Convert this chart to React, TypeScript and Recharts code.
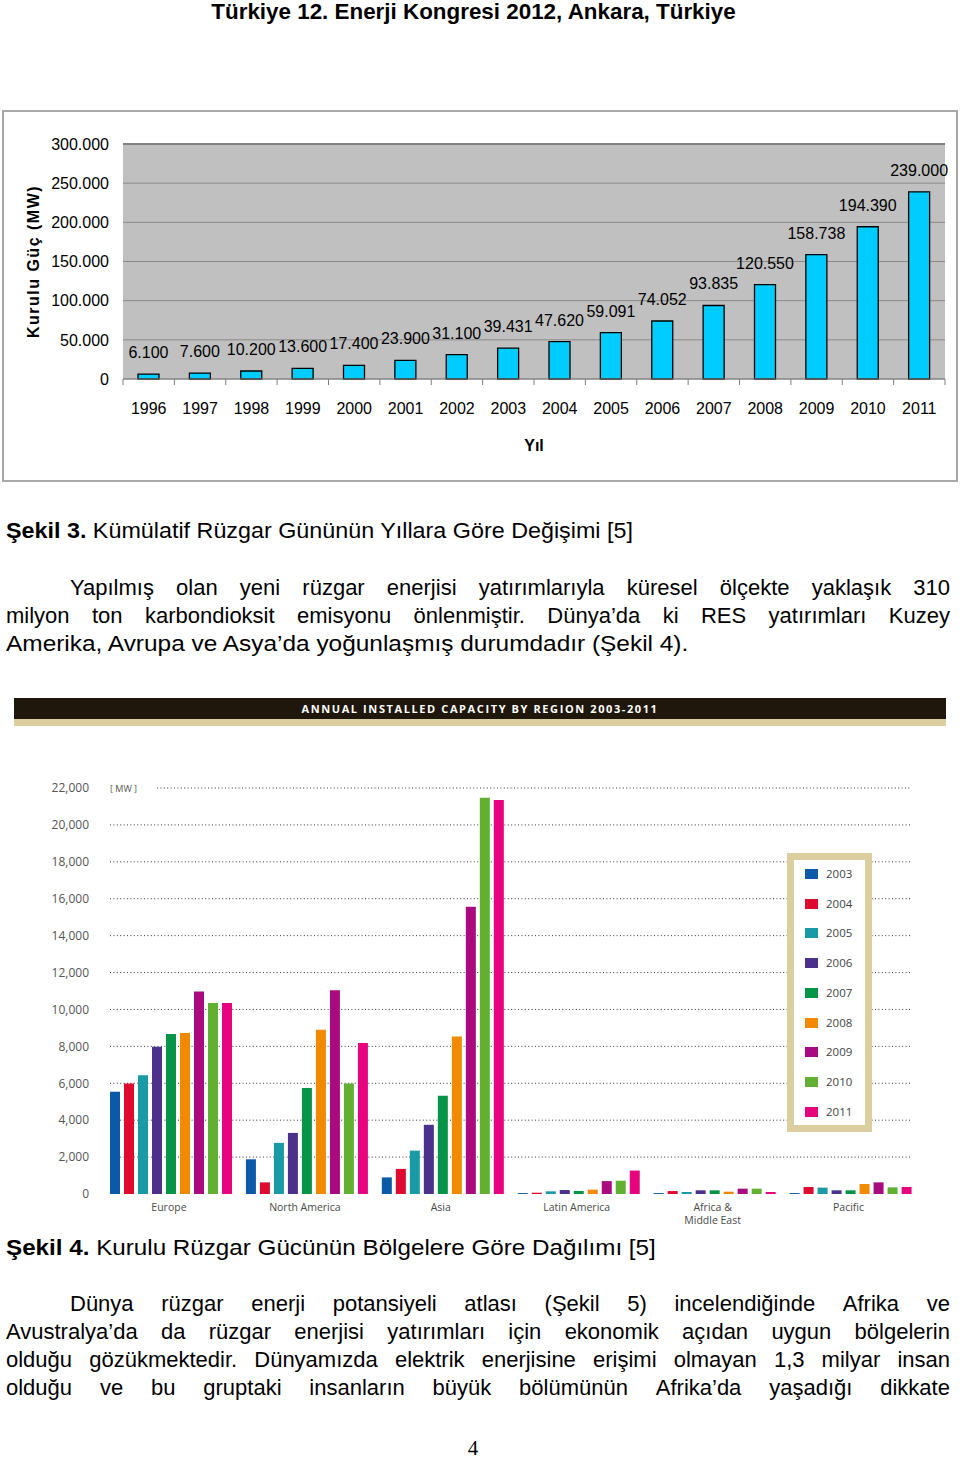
import React from 'react';
import { BarChart, Bar, XAxis, YAxis, CartesianGrid, LabelList, Legend, Label, ReferenceLine } from 'recharts';

// ---------- Şekil 3 data ----------
const years = ['1996', '1997', '1998', '1999', '2000', '2001', '2002', '2003', '2004', '2005', '2006', '2007', '2008', '2009', '2010', '2011'];
const installedMW = [6100, 7600, 10200, 13600, 17400, 23900, 31100, 39431, 47620, 59091, 74052, 93835, 120550, 158738, 194390, 239000];
const cumulativeTicks = [0, 50000, 100000, 150000, 200000, 250000, 300000];

// ---------- Şekil 4 data ----------
const regions = ['Europe', 'North America', 'Asia', 'Latin America', 'Africa &\nMiddle East', 'Pacific'];
const cap2003 = [5540, 1880, 900, 50, 50, 50];
const cap2004 = [5990, 630, 1360, 70, 160, 380];
const cap2005 = [6430, 2770, 2350, 145, 110, 345];
const cap2006 = [7980, 3310, 3750, 215, 200, 200];
const cap2007 = [8670, 5740, 5320, 165, 200, 200];
const cap2008 = [8720, 8900, 8540, 235, 125, 540];
const cap2009 = [10970, 11040, 15570, 700, 290, 630];
const cap2010 = [10350, 5990, 21470, 720, 290, 360];
const cap2011 = [10350, 8180, 21350, 1270, 110, 380];
const seriesYears = ['2003', '2004', '2005', '2006', '2007', '2008', '2009', '2010', '2011'];
const seriesValues = [cap2003, cap2004, cap2005, cap2006, cap2007, cap2008, cap2009, cap2010, cap2011];
const seriesColors = ['#0a5aa8', '#de0a30', '#1a9aa6', '#4b318c', '#069548', '#f08a00', '#aa0a80', '#62b032', '#e6057f'];
const regionTicks = [0, 2000, 4000, 6000, 8000, 10000, 12000, 14000, 16000, 18000, 20000, 22000];

const cumulativeData = years.map((y, i) => ({ year: y, mw: installedMW[i] }));
const regionData = regions.map((r, ri) => {
  const row: any = { region: r };
  seriesYears.forEach((y, si) => { row[y] = seriesValues[si][ri]; });
  return row;
});

const groupThousands = (v: number, sep: string) => String(v).replace(/\B(?=(\d{3})+(?!\d))/g, sep);
const fmtTR = (v: any) => groupThousands(Number(v), '.');
const fmtEN = (v: any) => groupThousands(Number(v), ',');

const SANS = '"Liberation Sans", Arial, Helvetica, sans-serif';
const OPEN = '"Open Sans", "Noto Sans", sans-serif';

const YearTick = (p: any) => {
  const band = p.width && p.visibleTicksCount ? p.width / p.visibleTicksCount : 0;
  return (
    <g>
      {band > 0 && <line x1={p.x - band / 2} x2={p.x - band / 2} y1={p.y} y2={p.y + 6} stroke="#808080" />}
      {band > 0 && p.index === p.visibleTicksCount - 1 && (
        <line x1={p.x + band / 2} x2={p.x + band / 2} y1={p.y} y2={p.y + 6} stroke="#808080" />
      )}
      <text x={p.x} y={p.y + 29} textAnchor="middle" dominantBaseline="central" fontSize={16} fontFamily={SANS} fill="#000">
        {p.payload.value}
      </text>
    </g>
  );
};

const RegionTick = (p: any) => {
  const lines = String(p.payload.value).split('\n');
  return (
    <g>
      {lines.map((l, i) => (
        <text key={i} x={p.x} y={p.y + 13 + i * 12.5} textAnchor="middle" dominantBaseline="central" fontSize={10.5} fontFamily={OPEN} fill="#4a4a4a">{l}</text>
      ))}
    </g>
  );
};

const DottedGrid = (p: any) => {
  const isTop = Math.abs(p.y1 - p.y) < 1;
  const isBottom = Math.abs(p.y1 - (p.y + p.height)) < 1;
  if (isBottom) return <g key={p.key} />;
  return (
    <g key={p.key}>
      {isTop && (
        <text x={p.x1 + 9} y={p.y1} dominantBaseline="central" fontSize={9} fontFamily={OPEN} fill="#555">[ MW ]</text>
      )}
      <line x1={p.x1 + (isTop ? 56 : 9)} x2={p.x2 - 6} y1={p.y1} y2={p.y2} stroke="#3a3a3a" strokeWidth={1} strokeDasharray="1 2.4" />
    </g>
  );
};

const LegendBox = (props: any) => {
  const items = props.payload || [];
  return (
    <div style={{ width: 85, height: 279, boxSizing: 'border-box', border: '7px solid #dccf9f', background: '#fff', position: 'relative' }}>
      {items.map((it: any, i: number) => (
        <div key={i} style={{ position: 'absolute', left: 11, top: 9 + i * 29.7, height: 10, display: 'flex', alignItems: 'center' }}>
          <div style={{ width: 13, height: 10, background: it.color }} />
          <span style={{ marginLeft: 8, fontSize: 11.5, fontFamily: OPEN, color: '#444', lineHeight: '10px' }}>{it.value}</span>
        </div>
      ))}
    </div>
  );
};

const TextLine = ({ cy, left, right, size = 22, justify = false, sx = 1, children }: any) => (
  <div
    style={{
      position: 'absolute', left, width: justify ? right - left : undefined, top: cy - size * 0.49, height: size,
      fontSize: size, lineHeight: `${size}px`, fontFamily: SANS, color: '#000', whiteSpace: 'pre',
      display: 'flex', justifyContent: justify ? 'space-between' : 'flex-start',
      transform: sx !== 1 ? `scaleX(${sx})` : undefined, transformOrigin: 'left center',
    }}
  >
    {children}
  </div>
);

const J = ({ text }: { text: string }) => <>{text.split(' ').map((w, i) => <span key={i}>{w}</span>)}</>;

export default function App() {
  return (
    <div style={{ position: 'absolute', left: 0, top: 0, width: 960, height: 1460, background: '#fff', overflow: 'hidden' }}>
      <div style={{ position: 'absolute', left: 0, width: 947, top: 1, textAlign: 'center', fontFamily: SANS, fontWeight: 'bold', fontSize: 22.4, lineHeight: '22px' }}>
        Türkiye 12. Enerji Kongresi 2012, Ankara, Türkiye
      </div>

      {/* Şekil 3 chart */}
      <div style={{ position: 'absolute', left: 2, top: 110, width: 956, height: 372, boxSizing: 'border-box', border: '2px solid #a8a8a8' }} />
      <div style={{ position: 'absolute', left: 0, top: 111 }}>
        <BarChart width={957} height={370} data={cumulativeData} margin={{ top: 33, right: 12, bottom: 0, left: 0 }}>
          <CartesianGrid vertical={false} fill="#c0c0c0" stroke="#8a8a8a" />
          <ReferenceLine y={300000} stroke="#808080" strokeWidth={2} />
          <XAxis dataKey="year" height={102} axisLine={{ stroke: '#808080' }} tickLine={false} tickSize={0} tickMargin={0} tick={<YearTick />} interval={0}>
            <Label content={(p: any) => (
              <text x={p.viewBox.x + p.viewBox.width / 2} y={p.viewBox.y + 66} textAnchor="middle" dominantBaseline="central" fontSize={16} fontWeight="bold" fontFamily={SANS}>Yıl</text>
            )} />
          </XAxis>
          <YAxis width={123} domain={[0, 300000]} ticks={cumulativeTicks} tickFormatter={fmtTR} axisLine={false} tickLine={false} tickSize={6} tickMargin={8} tick={{ fill: '#000', fontSize: 16, fontFamily: SANS }}>
            <Label content={(p: any) => {
              const x = p.viewBox.x + 33;
              const y = p.viewBox.y + p.viewBox.height / 2;
              return (
                <text x={x} y={y} transform={`rotate(-90 ${x} ${y})`} textAnchor="middle" dominantBaseline="central" fontSize={16} fontWeight="bold" fontFamily={SANS} letterSpacing={1.5}>Kurulu Güç (MW)</text>
              );
            }} />
          </YAxis>
          <Bar dataKey="mw" barSize={21} fill="#00ccff" stroke="#000" strokeWidth={1.3} isAnimationActive={false}>
            <LabelList dataKey="mw" position="top" offset={16} formatter={fmtTR} fill="#000" fontSize={16} fontFamily={SANS} />
          </Bar>
        </BarChart>
      </div>

      <TextLine cy={531} left={6} sx={1.06}>
        <span style={{ fontWeight: 'bold' }}>Şekil 3.</span> Kümülatif Rüzgar Gününün Yıllara Göre Değişimi [5]
      </TextLine>
      <TextLine cy={588} left={70} right={950} justify><J text="Yapılmış olan yeni rüzgar enerjisi yatırımlarıyla küresel ölçekte yaklaşık 310" /></TextLine>
      <TextLine cy={616} left={6} right={950} justify><J text="milyon ton karbondioksit emisyonu önlenmiştir. Dünya’da ki RES yatırımları Kuzey" /></TextLine>
      <TextLine cy={644} left={6} sx={1.11}>Amerika, Avrupa ve Asya’da yoğunlaşmış durumdadır (Şekil 4).</TextLine>

      {/* Şekil 4 chart */}
      <div style={{ position: 'absolute', left: 14, top: 698, width: 932, height: 21, background: '#1f170b', color: '#fff', fontFamily: OPEN, fontWeight: 'bold', fontSize: 11, letterSpacing: 1.6, lineHeight: '21px', textAlign: 'center' }}>
        ANNUAL INSTALLED CAPACITY BY REGION 2003-2011
      </div>
      <div style={{ position: 'absolute', left: 14, top: 719, width: 932, height: 7, background: '#dccf9f' }} />
      <div style={{ position: 'absolute', left: 0, top: 760 }}>
        <BarChart width={960} height={480} data={regionData} margin={{ top: 28, right: 43.5, bottom: 6, left: 0 }} barCategoryGap={9} barGap={4}>
          <CartesianGrid vertical={false} horizontal={DottedGrid} />
          <XAxis dataKey="region" height={40} axisLine={false} tickLine={false} tickSize={0} tickMargin={0} tick={<RegionTick />} interval={0} />
          <YAxis width={101} domain={[0, 22000]} ticks={regionTicks} tickFormatter={fmtEN} axisLine={false} tickLine={false} tickSize={4} tickMargin={8} tick={{ fill: '#555', fontSize: 12, fontFamily: OPEN }} />
          <Legend layout="vertical" align="center" verticalAlign="middle" wrapperStyle={{ left: 787, top: 93, width: 85, height: 279 }} content={<LegendBox />} />
          {seriesYears.map((y, i) => (
            <Bar key={y} dataKey={y} name={y} fill={seriesColors[i]} isAnimationActive={false} />
          ))}
        </BarChart>
      </div>

      <TextLine cy={1248} left={6} sx={1.1}>
        <span style={{ fontWeight: 'bold' }}>Şekil 4.</span> Kurulu Rüzgar Gücünün Bölgelere Göre Dağılımı [5]
      </TextLine>
      <TextLine cy={1304} left={70} right={950} justify><J text="Dünya rüzgar enerji potansiyeli atlası (Şekil 5) incelendiğinde Afrika ve" /></TextLine>
      <TextLine cy={1332} left={6} right={950} justify><J text="Avustralya’da da rüzgar enerjisi yatırımları için ekonomik açıdan uygun bölgelerin" /></TextLine>
      <TextLine cy={1360} left={6} right={950} justify><J text="olduğu gözükmektedir. Dünyamızda elektrik enerjisine erişimi olmayan 1,3 milyar insan" /></TextLine>
      <TextLine cy={1388} left={6} right={950} justify><J text="olduğu ve bu gruptaki insanların büyük bölümünün Afrika’da yaşadığı dikkate" /></TextLine>

      <div style={{ position: 'absolute', left: 463, width: 20, top: 1438, textAlign: 'center', fontFamily: '"Liberation Serif", "Times New Roman", serif', fontSize: 21, lineHeight: '21px' }}>4</div>
    </div>
  );
}
